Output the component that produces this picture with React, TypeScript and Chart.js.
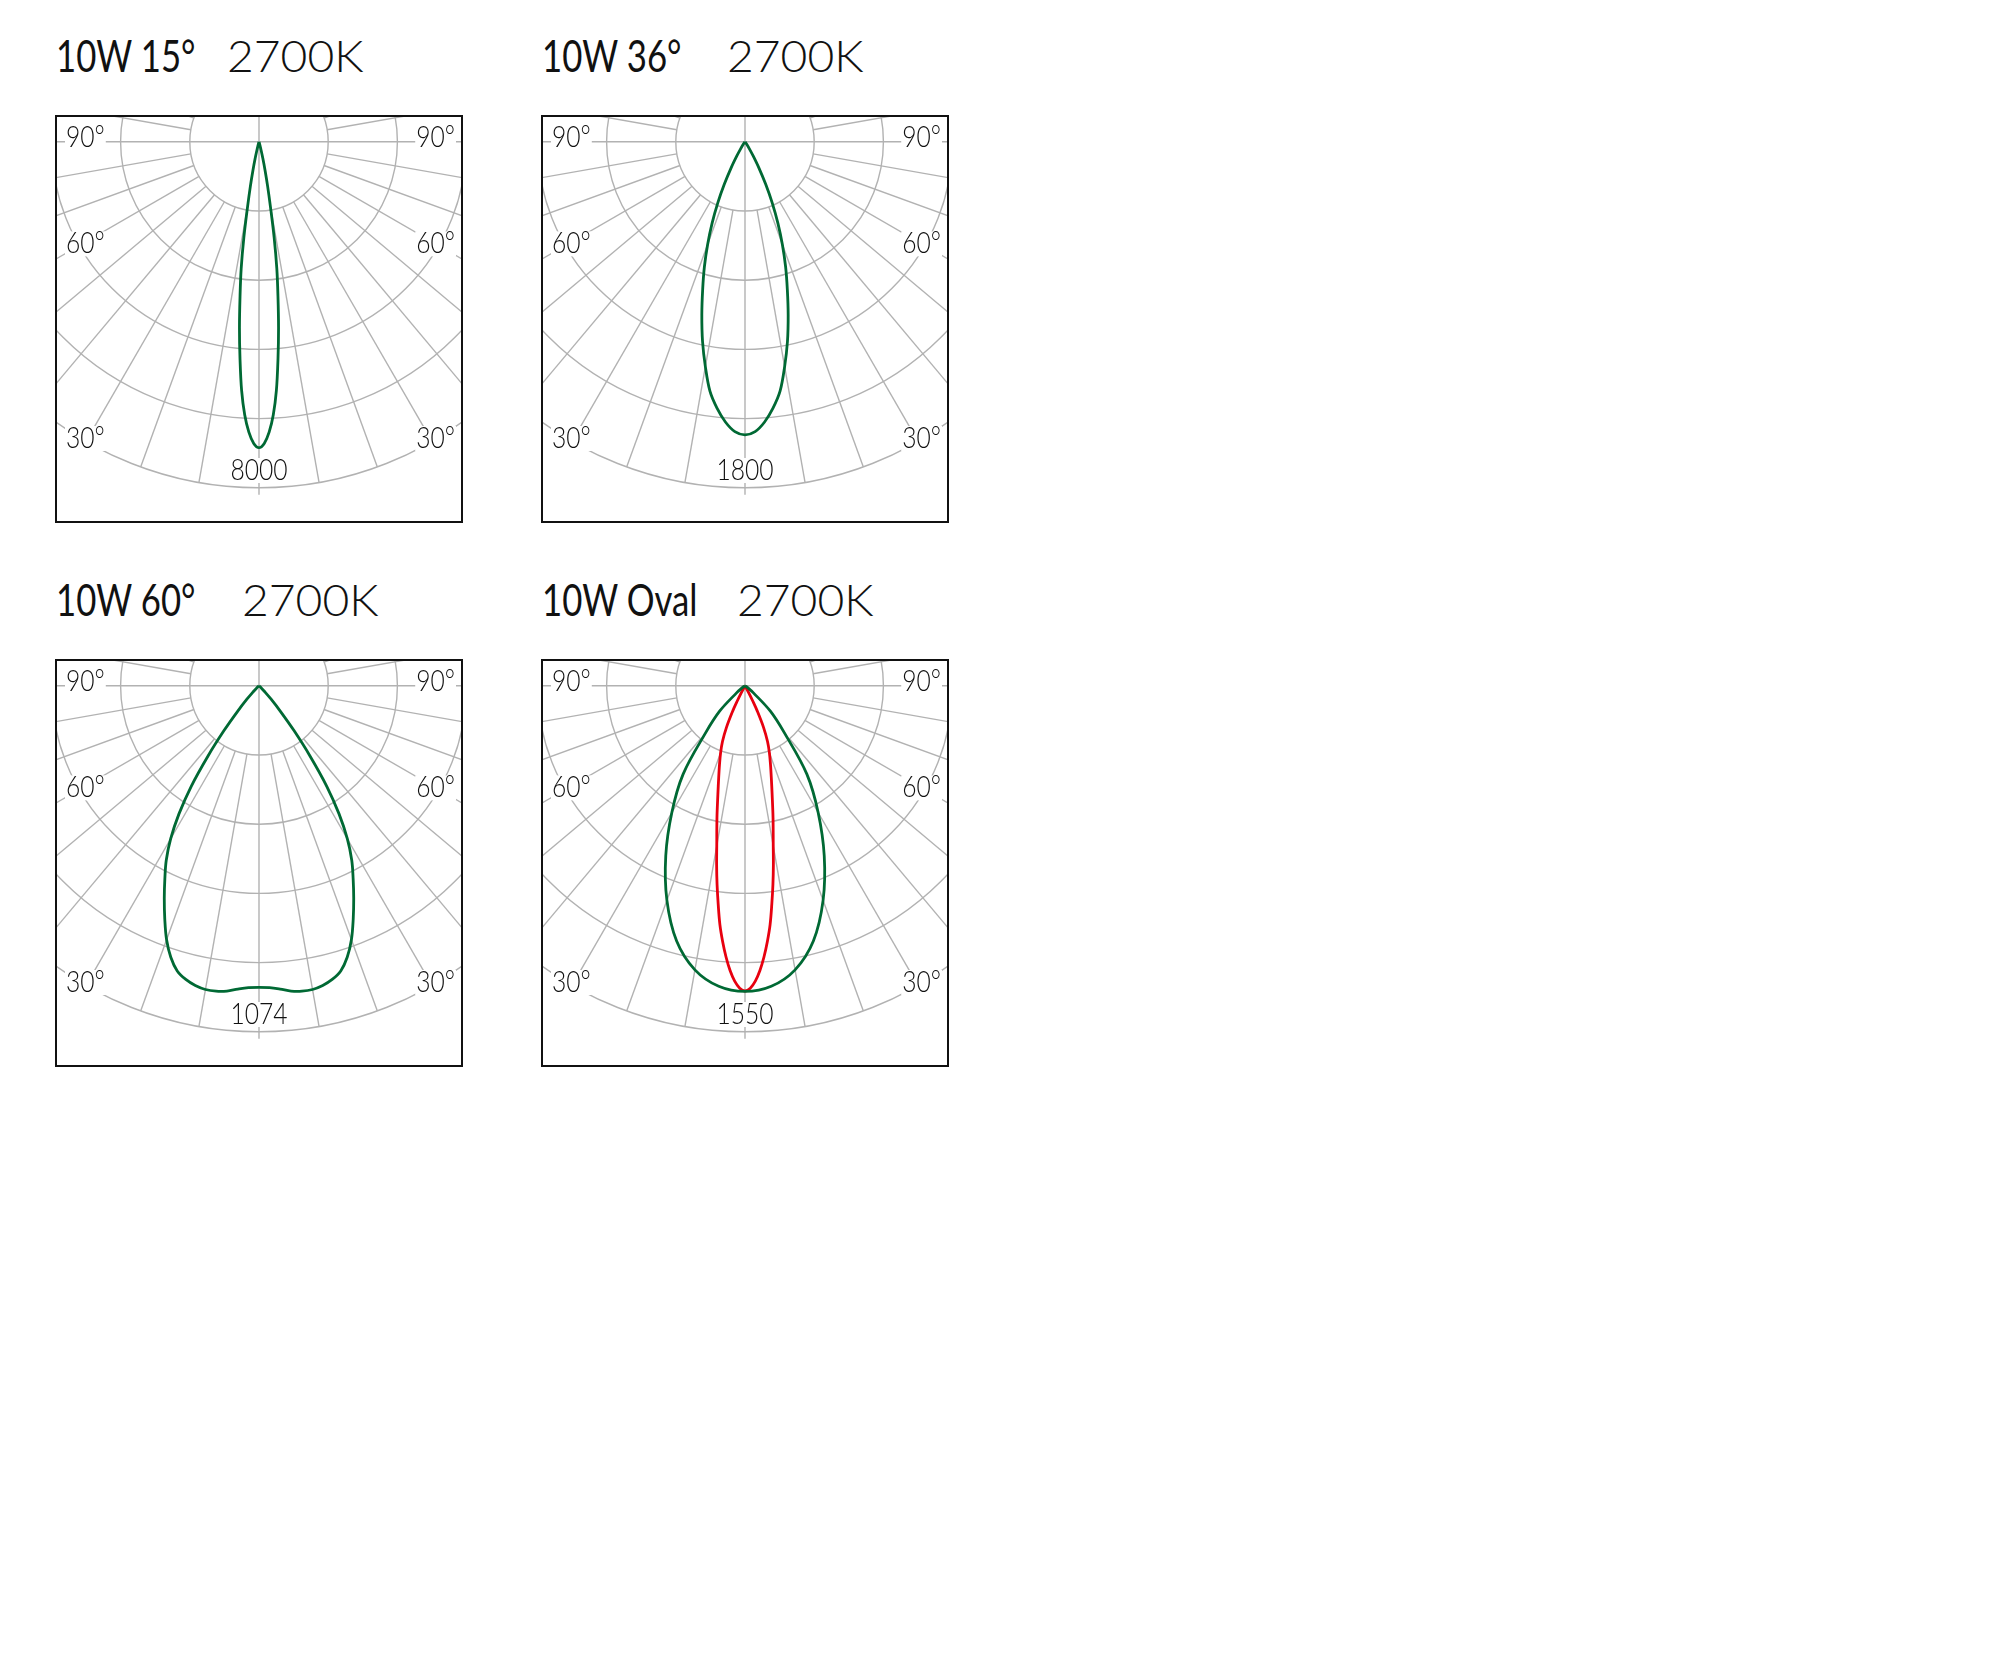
import React, { useEffect, useRef } from 'react';
import { Chart, registerables } from 'chart.js';

Chart.register(...registerables);

// ---------- data ----------
const TITLE_MAIN = ['10W 15°', '10W 36°', '10W 60°', '10W Oval'];
const TITLE_CCT = ['2700K', '2700K', '2700K', '2700K'];
const PEAK_LABELS = ['8000', '1800', '1074', '1550'];
const ANGLE_TICKS = ['90°', '60°', '30°'];
// candela represented by one grid ring
const RING_STEP = [1810, 425, 241, 351];

// intensity (cd) vs angle from nadir (deg), symmetric
const ANG_15 = [0, 1, 2, 3, 4, 5, 6, 7, 8, 9, 10, 11, 12, 13, 14, 15, 16, 18];
const CD_15 = [8000, 7890, 7600, 7150, 6520, 5700, 4890, 4070, 3350, 2530, 1720, 1180, 760, 450, 220, 90, 36, 0];

const ANG_36 = [0, 2, 4, 6, 8, 10, 12, 14, 16, 18, 20, 22, 24, 26, 28, 30, 32, 35, 40, 45];
const CD_36 = [1800, 1781, 1725, 1645, 1547, 1402, 1254, 1096, 943, 807, 671, 540, 412, 289, 183, 102, 51, 17, 4, 0];

const ANG_60 = [0, 2, 4, 6, 8, 10, 12, 14, 16, 18, 20, 22, 24, 26, 28, 30, 32, 34, 36, 38, 40, 42, 44, 46, 50, 55];
const CD_60 = [1050, 1052, 1059, 1069, 1074, 1074, 1067, 1054, 1033, 994, 941, 876, 811, 748, 688, 615, 526, 422, 302, 198, 116, 63, 29, 12, 2, 0];

const ANG_OVAL_C0 = [0, 5, 10, 15, 20, 25, 30, 35, 40, 45, 50, 55, 60, 65];
const CD_OVAL_C0 = [1550, 1530, 1463, 1340, 1158, 951, 742, 547, 310, 182, 56, 18, 4, 0];

const ANG_OVAL_C90 = [0, 1, 2, 3, 4, 5, 6, 7, 8, 9, 10, 12, 14, 16, 18, 20, 22, 24, 26, 27, 28, 30, 32];
const CD_OVAL_C90 = [1548, 1534, 1499, 1446, 1379, 1302, 1218, 1116, 1018, 920, 825, 684, 569, 484, 418, 362, 305, 232, 140, 88, 42, 7, 0];

// ---------- styles / layout ----------
const GREEN = '#006934';
const RED = '#e8000f';
const GRID = '#b2b2b2';
const INK = '#111111';
const BOX_LEFT = [56, 542, 56, 542];
const BOX_TOP = [116, 116, 660, 660];
const BOX = 406;
const PAD = 3;
const RING_PX = 69.2;
const CENTER_FROM_TOP = 25.8;
const CCT_OFFSET = [171, 185, 186, 195];

type Series = { angles: number[]; values: number[]; color: string };
const PANELS: Series[][] = [
  [{ angles: ANG_15, values: CD_15, color: GREEN }],
  [{ angles: ANG_36, values: CD_36, color: GREEN }],
  [{ angles: ANG_60, values: CD_60, color: GREEN }],
  [
    { angles: ANG_OVAL_C0, values: CD_OVAL_C0, color: GREEN },
    { angles: ANG_OVAL_C90, values: CD_OVAL_C90, color: RED },
  ],
];

function toXY(angles: number[], values: number[]) {
  const pts: { x: number; y: number }[] = [];
  const p = (deg: number, v: number) => {
    const t = (deg * Math.PI) / 180;
    return { x: v * Math.sin(t), y: -v * Math.cos(t) };
  };
  for (let i = angles.length - 1; i >= 0; i--) pts.push(p(-angles[i], values[i]));
  for (let i = 1; i < angles.length; i++) pts.push(p(angles[i], values[i]));
  return pts;
}

const polarGrid = {
  id: 'polarGrid',
  beforeDatasetsDraw(chart: any, _args: any, opts: any) {
    const { ctx, chartArea: a, scales } = chart;
    const xs = scales.x, ys = scales.y;
    const ring = opts.ringStep as number;
    const px = (vx: number, vy: number) => [xs.getPixelForValue(vx), ys.getPixelForValue(vy)];
    const [cx, cy] = px(0, 0);
    const rx = xs.getPixelForValue(ring) - cx;
    const ry = cy - ys.getPixelForValue(ring);
    ctx.save();
    ctx.beginPath();
    ctx.rect(a.left, a.top, a.right - a.left, a.bottom - a.top);
    ctx.clip();
    ctx.strokeStyle = GRID;
    ctx.lineWidth = 1.4;
    for (let k = 1; k <= 5; k++) {
      ctx.beginPath();
      ctx.ellipse(cx, cy, rx * k, ry * k, 0, 0, Math.PI * 2);
      ctx.stroke();
    }
    for (let deg = 10; deg < 180; deg += 10) {
      if (deg === 90) continue;
      for (const s of [-1, 1]) {
        const t = (s * deg * Math.PI) / 180;
        const [x1, y1] = px(ring * Math.sin(t), -ring * Math.cos(t));
        const [x2, y2] = px(5 * ring * Math.sin(t), -5 * ring * Math.cos(t));
        ctx.beginPath();
        ctx.moveTo(x1, y1);
        ctx.lineTo(x2, y2);
        ctx.stroke();
      }
    }
    const [, yEnd] = px(0, -5.1 * ring);
    ctx.beginPath();
    ctx.moveTo(cx, a.top);
    ctx.lineTo(cx, yEnd);
    ctx.moveTo(a.left, cy);
    ctx.lineTo(a.right, cy);
    ctx.stroke();

    // labels
    const sx = 0.85;
    ctx.font = '300 29px Lato';
    ctx.textBaseline = 'alphabetic';
    const label = (text: string, x: number, base: number, align: 'l' | 'r' | 'c') => {
      const w = ctx.measureText(text).width * sx;
      const left = align === 'l' ? x : align === 'r' ? x - w : x - w / 2;
      ctx.fillStyle = '#ffffff';
      ctx.fillRect(left - 1, base - 22, w + 2, 25);
      ctx.fillStyle = INK;
      ctx.save();
      ctx.translate(left, base);
      ctx.scale(sx, 1);
      ctx.fillText(text, 0, 0);
      ctx.restore();
    };
    const bases = [31, 137.4, 332];
    ANGLE_TICKS.forEach((t, i) => {
      label(t, a.left + 10, a.top + bases[i], 'l');
      label(t, a.right - 7, a.top + bases[i], 'r');
    });
    label(opts.peakLabel, cx, a.top + 364, 'c');
    ctx.restore();
  },
  afterDraw(chart: any) {
    const { ctx, chartArea: a } = chart;
    ctx.save();
    ctx.strokeStyle = INK;
    ctx.lineWidth = 2;
    ctx.strokeRect(a.left, a.top, a.right - a.left, a.bottom - a.top);
    ctx.restore();
  },
};

function Panel({ idx }: { idx: number }) {
  const ref = useRef<HTMLCanvasElement>(null);
  useEffect(() => {
    if (!ref.current) return;
    const ring = RING_STEP[idx];
    const xHalf = BOX / 2 / RING_PX;
    const yTop = CENTER_FROM_TOP / RING_PX;
    const yBottom = (BOX - CENTER_FROM_TOP) / RING_PX;
    const chart = new Chart(ref.current, {
      type: 'scatter',
      data: {
        datasets: PANELS[idx].map((s) => ({
          data: toXY(s.angles, s.values),
          borderColor: s.color,
          backgroundColor: s.color,
          borderWidth: 2.8,
          showLine: true,
          pointRadius: 0,
          tension: 0.35,
          fill: false,
        })),
      },
      options: {
        responsive: false,
        animation: false,
        events: [],
        layout: { padding: PAD },
        scales: {
          x: { type: 'linear', display: false, min: -xHalf * ring, max: xHalf * ring },
          y: { type: 'linear', display: false, min: -yBottom * ring, max: yTop * ring },
        },
        plugins: {
          legend: { display: false },
          tooltip: { enabled: false },
          polarGrid: { ringStep: ring, peakLabel: PEAK_LABELS[idx] },
        } as any,
      },
      plugins: [polarGrid],
    });
    return () => chart.destroy();
  }, [idx]);

  const left = BOX_LEFT[idx];
  const top = BOX_TOP[idx];
  const titleBase = top - 44;
  const titleStyle: React.CSSProperties = {
    position: 'absolute',
    top: titleBase - 39,
    fontFamily: 'Lato, sans-serif',
    fontSize: 44,
    lineHeight: '44px',
    color: INK,
    whiteSpace: 'pre',
    transformOrigin: 'left center',
  };
  return (
    <>
      <div style={{ ...titleStyle, left, fontWeight: 400, transform: 'scaleX(0.79)' }}>{TITLE_MAIN[idx]}</div>
      <div style={{ ...titleStyle, left: left + CCT_OFFSET[idx], fontWeight: 300, transform: 'scaleX(1.05)' }}>
        {TITLE_CCT[idx]}
      </div>
      <canvas
        ref={ref}
        width={BOX + 2 * PAD}
        height={BOX + 2 * PAD}
        style={{ position: 'absolute', left: left - PAD, top: top - PAD, width: BOX + 2 * PAD, height: BOX + 2 * PAD }}
      />
    </>
  );
}

export default function App() {
  return (
    <div style={{ position: 'absolute', left: 0, top: 0, width: 1000, height: 1100, background: '#fff' }}>
      {[0, 1, 2, 3].map((i) => (
        <Panel key={i} idx={i} />
      ))}
    </div>
  );
}
